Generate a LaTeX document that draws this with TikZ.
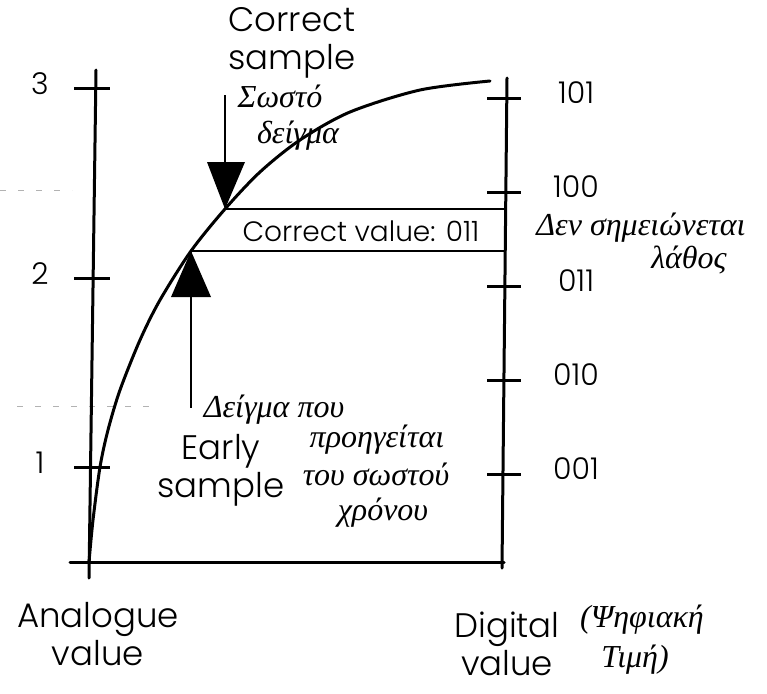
\documentclass[tikz,border=0pt]{standalone}
\usepackage{fontspec}
\setmainfont{Poppins}[UprightFont=* Light]
\newfontfamily\handfont{Liberation Serif}
\usetikzlibrary{positioning, calc}

\begin{document}
\begin{tikzpicture}[
  x=1pt, y=-1pt,
  axis/.style={line width=3pt, line cap=round},
  tickmark/.style={line width=3pt},
  boxline/.style={line width=2.5pt},
  pointer/.style={line width=2pt},
  bigtext/.style={font=\fontsize{34}{38}\selectfont, align=center, inner sep=0pt},
  boxtext/.style={font=\fontsize{28}{30}\selectfont, inner sep=0pt},
  numlabel/.style={font=\fontsize{30}{32}\selectfont, inner sep=0pt},
  hand/.style={font=\handfont\itshape\fontsize{32}{34}\selectfont, inner sep=0pt},
  scanmark/.style={gray!60, line width=1pt, dash pattern=on 6pt off 12pt}
]
\useasboundingbox (0,0) rectangle (767,693);

% Faint marks of the scan
\draw[scanmark] (0,190) -- (72,190);
\draw[scanmark] (17,406) -- (160,406);

% Axes and base line
\coordinate (ana-top) at (96,70);
\coordinate (ana-bot) at (89,578);
\coordinate (dig-top) at (507,78);
\coordinate (dig-bot) at (502,568);
\coordinate (base-l) at (70,562);
\coordinate (base-r) at (504,562);
\draw[axis] (ana-top) -- (ana-bot);
\draw[axis] (dig-top) -- (dig-bot);
\draw[axis] (base-l) -- (base-r);

% Analogue ticks
\foreach \y/\t in {88/3, 278/2, 467/1} {
  \draw[tickmark] (74,\y) -- (110,\y);
  \node[numlabel] (ana-\t) at (40,\y-4) {\t};
}
% Digital ticks
\foreach \y/\t in {98/101, 192/100, 286/011, 380/010, 474/001} {
  \draw[tickmark] (487,\y) -- (521,\y);
  \node[numlabel] (dig-\t) at (576,\y-5) {\t};
}

% Transfer curve
\coordinate (early-tip) at (191,251);
\coordinate (ok-tip) at (225,209);
\draw[axis] plot[smooth] coordinates {(89,562) (93,520) (100,467) (108,430)
  (120,390) (140,340) (160,300) (early-tip) (ok-tip) (260,172) (300,140)
  (350,112) (420,90) (490,81)};

% Correct value band
\coordinate (val-hi) at (506,209);
\coordinate (val-lo) at (505,251);
\draw[boxline] (ok-tip) -- (val-hi);
\draw[boxline] (early-tip) -- (val-lo);
\node[boxtext] (val) at (361,231) {Correct value: 011};

% Correct sample marker
\coordinate (ok-from) at (225,95);
\coordinate (ok-base) at (225,162);
\fill (207,162) -- (245,162) -- (ok-tip) -- cycle;
\draw[pointer] (ok-from) -- (ok-base);

% Early sample marker
\coordinate (early-base) at (191,297);
\coordinate (early-to) at (191,408);
\fill (171,297) -- (211,297) -- (early-tip) -- cycle;
\draw[pointer] (early-base) -- (early-to);

% Printed labels
\node[bigtext] (okl) at (292,43) {Correct\\sample};
\node[bigtext] (earlyl) at (221,470) {Early\\sample};
\node[bigtext] (anal) at (98,634) {Analogue\\value};
\node[bigtext] (digl) at (507,644) {Digital\\value};

% Handwritten notes
\node[hand] (ok-gr1) at (280,96) {Σωστό};
\node[hand] (ok-gr2) at (298,136) {δείγμα};
\node[hand] (err-gr1) at (641,228) {Δεν σημειώνεται};
\node[hand] (err-gr2) at (689,260) {λάθος};
\node[hand] (early-gr1) at (274,410) {Δείγμα που};
\node[hand] (early-gr2) at (377,440) {προηγείται};
\node[hand] (early-gr3) at (376,474) {του σωστού};
\node[hand] (early-gr4) at (383,513) {χρόνου};
\node[hand] (dig-gr1) at (642,620) {(Ψηφιακή};
\node[hand] (dig-gr2) at (635,660) {Τιμή)};

\end{tikzpicture}
\end{document}
